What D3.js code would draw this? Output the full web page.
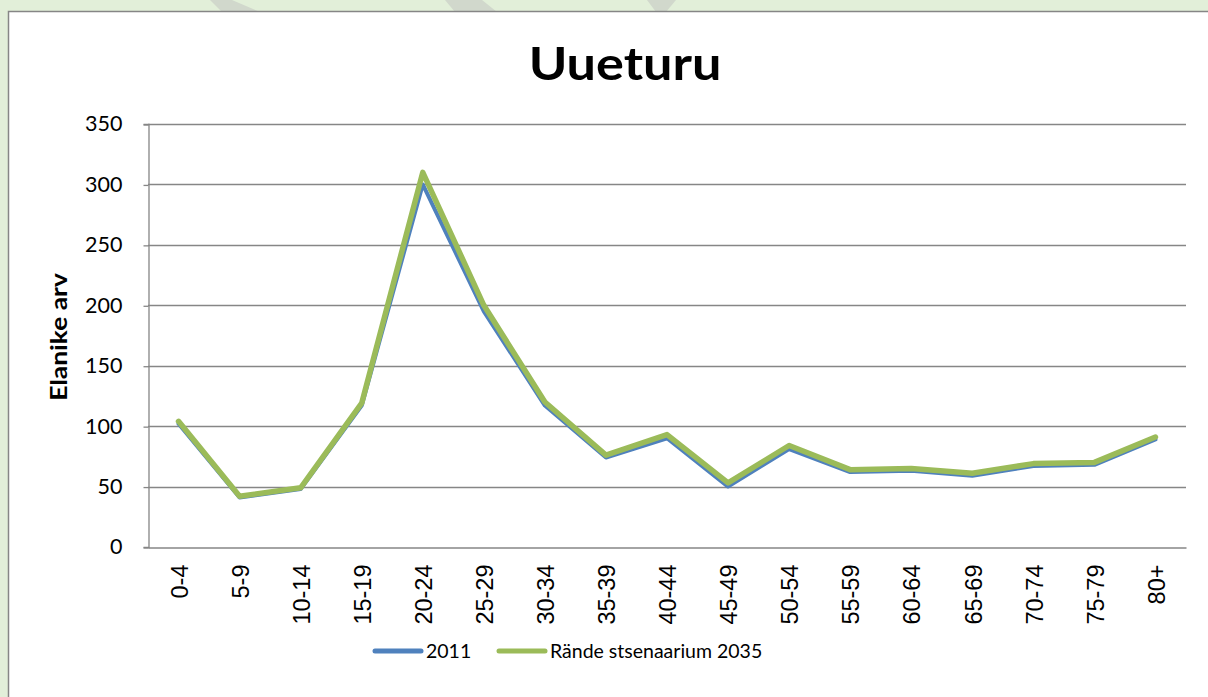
<!DOCTYPE html>
<html>
<head>
<meta charset="utf-8">
<script src="https://cdn.jsdelivr.net/npm/d3@7"></script>
<style>
  body { margin: 0; background: #e2efd9; }
  svg { display: block; }
</style>
</head>
<body>
<div id="chart"></div>
<script>
const ageGroups = ["0-4", "5-9", "10-14", "15-19", "20-24", "25-29", "30-34", "35-39", "40-44",
    "45-49", "50-54", "55-59", "60-64", "65-69", "70-74", "75-79", "80+"];
const values2011 = [102, 41, 48, 117, 300, 195, 117, 74, 90, 50, 81, 62, 63, 59, 67, 68, 89];
const valuesScenario = [104, 42, 49, 119, 310, 200, 120, 76, 93, 53, 84, 64, 65, 61, 69, 70, 91];
const yTicks = [0, 50, 100, 150, 200, 250, 300, 350];

const series = [
    { name: "2011", values: values2011, color: "#4f81bd", width: 4 },
    { name: "Rände stsenaarium 2035", values: valuesScenario, color: "#9bbb59", width: 5.5 }
];

const W = 1208, H = 697;
const margin = { left: 148, right: 22, top: 124, bottom: 150 };
const calibriLike = "Lato, 'Open Sans', sans-serif";

const svg = d3.select("#chart").append("svg")
    .attr("width", W)
    .attr("height", H);

// faint watermark bits showing above the chart frame
const stripes = [[210, 232, 222, 260], [445, 482, 455, 497], [647, 676, 656, 666]];
svg.append("g").selectAll("path")
    .data(stripes)
    .join("path")
    .attr("d", d => `M${d[0]},0 L${d[1]},0 L${d[3]},12 L${d[2]},12 Z`)
    .attr("fill", "#d1d8cc");

// chart frame
svg.append("rect")
    .attr("x", 8.5).attr("y", 11.5)
    .attr("width", 1260).attr("height", 720)
    .attr("fill", "#fff")
    .attr("stroke", "#868686")
    .attr("stroke-width", 1.5);

const x = d3.scaleBand()
    .domain(ageGroups)
    .range([margin.left, W - margin.right]);

const y = d3.scaleLinear()
    .domain([0, 350])
    .range([547, margin.top]);

// gridlines
svg.append("g")
    .selectAll("line")
    .data(yTicks.filter(t => t > 0))
    .join("line")
    .attr("x1", margin.left).attr("x2", W - margin.right)
    .attr("y1", d => Math.round(y(d)) + 0.5)
    .attr("y2", d => Math.round(y(d)) + 0.5)
    .attr("stroke", "#868686")
    .attr("stroke-width", 1.3);

// y axis
const yAxis = svg.append("g")
    .attr("transform", `translate(${margin.left + 0.5},0)`)
    .call(d3.axisLeft(y).tickValues(yTicks).tickSize(5).tickPadding(21));
yAxis.select(".domain").attr("stroke", "#868686").attr("stroke-width", 1.3);
yAxis.selectAll(".tick line").attr("stroke", "#868686").attr("stroke-width", 1.3)
    .attr("transform", "translate(0,0.5)");
yAxis.selectAll("text")
    .attr("font-family", calibriLike)
    .attr("font-size", 21.5)
    .attr("fill", "#000");

// x axis
const xAxis = svg.append("g")
    .attr("transform", `translate(0,${Math.round(y(0)) + 0.5})`)
    .call(d3.axisBottom(x).tickSize(0).tickSizeOuter(0));
xAxis.select(".domain").attr("stroke", "#868686").attr("stroke-width", 1.3);
xAxis.selectAll("text")
    .attr("font-family", "'Liberation Sans', Arial, sans-serif")
    .attr("font-size", 23.5)
    .attr("fill", "#000")
    .attr("text-anchor", "end")
    .attr("transform", "rotate(-90)")
    .attr("x", -17)
    .attr("y", 1)
    .attr("dy", "0.35em");

// lines
const line = d3.line()
    .x((d, i) => x(ageGroups[i]) + x.bandwidth() / 2)
    .y(d => y(d));

svg.append("g")
    .selectAll("path")
    .data(series)
    .join("path")
    .attr("d", d => line(d.values))
    .attr("fill", "none")
    .attr("stroke", d => d.color)
    .attr("stroke-width", d => d.width)
    .attr("stroke-linejoin", "round")
    .attr("stroke-linecap", "round");

// title
svg.append("text")
    .attr("transform", "translate(625,80) scale(1.16,1)")
    .attr("text-anchor", "middle")
    .attr("font-family", calibriLike)
    .attr("font-weight", "bold")
    .attr("font-size", 45)
    .text("Uueturu");

// y axis title
svg.append("text")
    .attr("transform", "translate(67,337) rotate(-90) scale(1.2,1)")
    .attr("text-anchor", "middle")
    .attr("font-family", calibriLike)
    .attr("font-weight", "bold")
    .attr("font-size", 22)
    .text("Elanike arv");

// legend
const legendPos = [374, 498];
const legend = svg.append("g")
    .selectAll("g")
    .data(series)
    .join("g")
    .attr("transform", (d, i) => `translate(${legendPos[i]},651)`);
legend.append("line")
    .attr("x1", 1).attr("x2", 47)
    .attr("stroke", d => d.color)
    .attr("stroke-width", 5)
    .attr("stroke-linecap", "round");
legend.append("text")
    .attr("x", 52).attr("dy", "0.35em")
    .attr("font-family", calibriLike)
    .attr("font-size", 19.5)
    .text(d => d.name);
</script>
</body>
</html>
